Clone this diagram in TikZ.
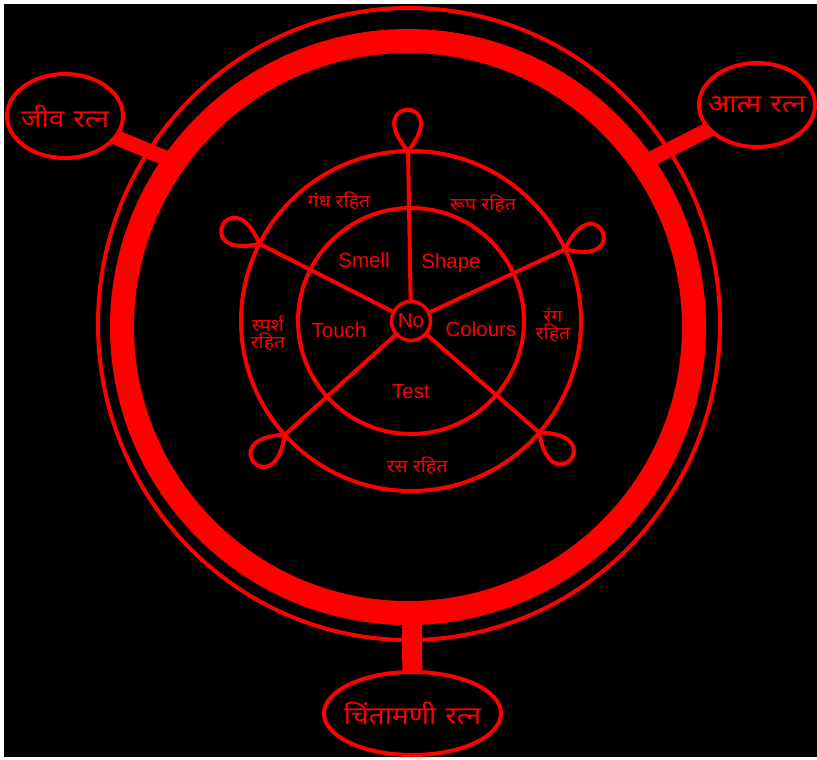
\documentclass[tikz,border=0pt]{standalone}
\usepackage{fontspec}
\setmainfont{Liberation Sans}
\newfontfamily\deva[Script=Devanagari,FakeStretch=1.12]{Noto Sans}
\usetikzlibrary{shapes.geometric,calc}
\definecolor{rred}{RGB}{255,0,0}
\newcommand\gapsp{\hspace{9pt}}
\newcommand\gapsm{\hspace{5pt}}
\begin{document}
\begin{tikzpicture}[x=1pt,y=-1pt,
  ringline/.style={draw=rred, line width=4pt},
  eng/.style={text=rred, font=\fontsize{20.5}{22}\selectfont, anchor=base},
  hin/.style={text=rred, font=\deva\fontsize{17.5}{17}\selectfont, align=center, inner sep=0pt},
  gem/.style={ellipse, draw=rred, fill=black, line width=4pt, text=rred, inner sep=-25pt, font=\deva\fontsize{25}{27}\selectfont},
  bar/.style={draw=rred, line width=15pt},
  spoke/.style={draw=rred, line width=4pt},
]
\fill[white] (0,0) rectangle (817,760);
\useasboundingbox (0,0) rectangle (817,760);
\fill[black] (4,4) rectangle (817,757);

% big rings
\coordinate (rc) at (408,327);
\draw[rred, line width=4pt] (409,324) ellipse[x radius=311pt, y radius=316pt];
\draw[rred, line width=24pt] (rc) circle[radius=286pt];

% connector bars
\coordinate (jc) at (65,116);
\coordinate (ac) at (757,105);
\coordinate (cc) at (412.5,713.5);
\coordinate (lj) at (170,160);
\coordinate (rj) at (645,162);
\coordinate (bj) at (412,612);
\draw[bar] (jc) -- (lj);
\draw[bar] (ac) -- (rj);
\draw[rred, line width=20pt] (bj) -- (cc);

% gem ellipses
\node[gem, minimum width=116pt, minimum height=84pt] (jiva) at (jc) {जीव\gapsp रत्न};
\node[gem, minimum width=116pt, minimum height=84pt] (atma) at (ac) {आत्म\gapsp रत्न};
\node[gem, minimum width=177pt, minimum height=83pt] (chinta) at (cc) {चिंतामणी\gapsp रत्न};

% wheel
\coordinate (wc) at (411,321);
\draw[ringline] (wc) circle[radius=170pt];
\draw[ringline] (wc) circle[radius=113pt];
\node[circle, draw=rred, line width=3.5pt, minimum size=39pt, inner sep=0pt, text=rred, font=\fontsize{20.5}{22}\selectfont] (no) at (wc) {No};

\foreach \a/\n in {-91/pt, -153/pul, -25/pur, 138/pll, 41/plr}{
  \coordinate (\n) at ($(wc)+(\a:170)$);
  \draw[spoke] (no) -- (\n) .. controls +(\a+40:72) and +(\a-40:72) .. (\n);
}

% English labels
\node[eng] (smell) at (364,267) {Smell};
\node[eng] (shape) at (451,268) {Shape};
\node[eng] (touch) at (339,337) {Touch};
\node[eng] (colours) at (481,336) {Colours};
\node[eng] (test) at (411,398) {Test};

% Hindi labels
\node[hin] (gandh) at (339,201) {गंध\gapsm रहित};
\node[hin] (roop) at (483,204) {रूप\gapsm रहित};
\node[hin] (sparsh) at (268,333) {स्पर्श\\रहित};
\node[hin] (rang) at (553,325) {रंग\\रहित};
\node[hin] (ras) at (417,466) {रस\gapsm रहित};
\end{tikzpicture}
\end{document}
